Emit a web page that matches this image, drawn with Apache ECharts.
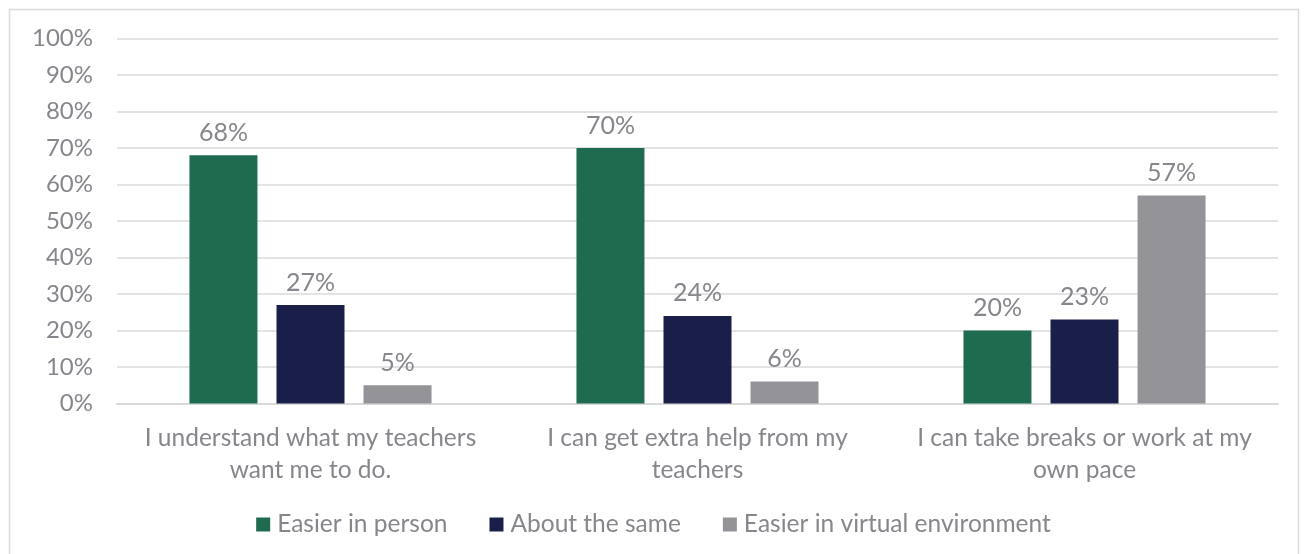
<!DOCTYPE html>
<html>
<head>
<meta charset="utf-8">
<script src="https://cdn.jsdelivr.net/npm/echarts@6/dist/echarts.min.js"></script>
<style>
  html, body { margin: 0; padding: 0; background: #ffffff; }
  #chart { width: 1307px; height: 554px; }
</style>
</head>
<body>
<div id="chart"></div>
<script>
// Survey statements (line breaks where the labels wrap)
const categories = [
  'I understand what my teachers\nwant me to do.',
  'I can get extra help from my\nteachers',
  'I can take breaks or work at my\nown pace'
];
const seriesNames = ['Easier in person', 'About the same', 'Easier in virtual environment'];
const easierInPerson = [68, 70, 20];
const aboutTheSame = [27, 24, 23];
const easierVirtual = [5, 6, 57];
const yTicks = [0, 10, 20, 30, 40, 50, 60, 70, 80, 90, 100];

const colors = ['#1f6b50', '#1a1f4a', '#939398'];
const textColor = '#86868c';
const fontFamily = 'Lato, "Open Sans", sans-serif';

const chart = echarts.init(document.getElementById('chart'));

function barSeries(name, values, color) {
  return {
    name: name,
    type: 'bar',
    data: values,
    barWidth: 68,
    barGap: '28%',
    itemStyle: { color: color },
    label: {
      show: true,
      position: 'top',
      distance: 10,
      formatter: '{c}%',
      color: textColor,
      fontSize: 25,
      fontFamily: fontFamily
    }
  };
}

chart.setOption({
  animation: false,
  color: colors,
  graphic: [{
    type: 'rect',
    shape: { x: 9.5, y: 9.5, width: 1289, height: 570 },
    style: { fill: 'none', stroke: '#dcdcdc', lineWidth: 1.5 },
    silent: true,
    z: -1
  }],
  grid: { left: 117, right: 29, top: 38.5, bottom: 150.5, containLabel: false },
  legend: {
    data: seriesNames,
    bottom: 12,
    left: 'center',
    icon: 'rect',
    itemWidth: 14,
    itemHeight: 14,
    itemGap: 42,
    textStyle: { color: textColor, fontSize: 24.5, fontFamily: fontFamily, padding: [0, 0, 0, 2] }
  },
  xAxis: {
    type: 'category',
    data: categories,
    axisLine: { lineStyle: { color: '#d9d9d9', width: 2 } },
    axisTick: { show: false },
    axisLabel: {
      color: textColor,
      fontSize: 24.5,
      fontFamily: fontFamily,
      lineHeight: 32,
      margin: 19,
      interval: 0
    }
  },
  yAxis: {
    type: 'value',
    min: yTicks[0],
    max: yTicks[yTicks.length - 1],
    interval: yTicks[1] - yTicks[0],
    axisLine: { show: false },
    axisTick: { show: false },
    splitLine: { lineStyle: { color: '#e3e3e3', width: 2 } },
    axisLabel: {
      formatter: '{value}%',
      color: textColor,
      fontSize: 24,
      fontFamily: fontFamily,
      margin: 24
    }
  },
  series: [
    barSeries(seriesNames[0], easierInPerson, colors[0]),
    barSeries(seriesNames[1], aboutTheSame, colors[1]),
    barSeries(seriesNames[2], easierVirtual, colors[2])
  ]
});
</script>
</body>
</html>
